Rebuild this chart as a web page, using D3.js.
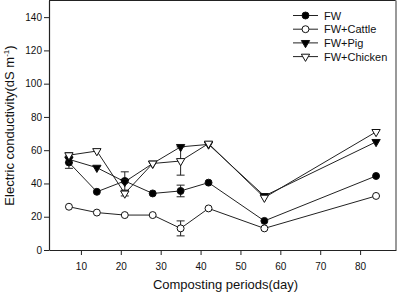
<!DOCTYPE html>
<html>
<head>
<meta charset="utf-8">
<script src="https://cdn.jsdelivr.net/npm/d3@7"></script>
<style>
  body { margin: 0; background: #fff; }
  svg text { font-family: "Liberation Sans", Arial, sans-serif; fill: #111; }
</style>
</head>
<body>
<div id="chart"></div>
<script>
var days = [7, 14, 21, 28, 35, 42, 56, 84];
var fw = [52.6, 35, 41.5, 34, 35.5, 40.5, 17.5, 44.5];
var fwErr = [3.5, 0, 5.5, 0, 3.5, 0, 0, 0];
var cattle = [26, 22.5, 21, 21, 13, 25, 13, 32.5];
var cattleErr = [0, 0, 0, 0, 4.5, 0, 0, 0];
var pig = [54.5, 49.5, 41, 52, 62, 63.5, 32.5, 65];
var pigErr = [2, 0, 0, 0, 0, 0, 0, 0];
var chicken = [57, 59.5, 34, 52, 53.5, 64, 31.5, 71];
var chickenErr = [1.5, 0, 1.5, 0, 8.5, 0, 0, 0];
var seriesNames = ["FW", "FW+Cattle", "FW+Pig", "FW+Chicken"];
var xTicks = [10, 20, 30, 40, 50, 60, 70, 80];
var yTicks = [0, 20, 40, 60, 80, 100, 120, 140];

var series = [
  { name: seriesNames[0], values: fw, err: fwErr, shape: "circle", fill: "#000" },
  { name: seriesNames[1], values: cattle, err: cattleErr, shape: "circle", fill: "#fff" },
  { name: seriesNames[2], values: pig, err: pigErr, shape: "tri", fill: "#000" },
  { name: seriesNames[3], values: chicken, err: chickenErr, shape: "tri", fill: "#fff" }
];

var margin = { top: 0.5, right: 8, bottom: 43, left: 49 },
  width = 396 - margin.left,
  height = 250 - margin.top;

var svg = d3.select("#chart").append("svg")
  .attr("width", 404)
  .attr("height", 293)
  .append("g")
  .attr("transform", "translate(" + margin.left + "," + margin.top + ")");

var x = d3.scaleLinear().domain([2, 89]).range([0, width]);
var y = d3.scaleLinear().domain([0, 150]).range([height, 0]);

// frame: top dark, right gray
svg.append("line")
  .attr("x1", 0).attr("x2", width).attr("y1", 0).attr("y2", 0)
  .attr("stroke", "#222").attr("stroke-width", 1);
svg.append("line")
  .attr("x1", width).attr("x2", width).attr("y1", 0).attr("y2", height)
  .attr("stroke", "#999").attr("stroke-width", 2);

var xAxis = d3.axisBottom(x).tickValues(xTicks).tickSize(5).tickSizeOuter(0);
var yAxis = d3.axisLeft(y).tickValues(yTicks).tickSize(5).tickSizeOuter(0);

var gx = svg.append("g")
  .attr("transform", "translate(0," + height + ")")
  .call(xAxis);
var gy = svg.append("g").call(yAxis);

[gx, gy].forEach(function (g) {
  g.select(".domain").attr("stroke", "#222").attr("stroke-width", 1.2);
  g.selectAll(".tick line").attr("stroke", "#222");
  g.selectAll("text").attr("font-size", 10).attr("fill", "#222")
    .attr("font-family", "Liberation Sans, Arial, sans-serif");
});
gx.selectAll("text").attr("dy", "1.15em");
gy.selectAll("text").attr("x", -7);

var line = d3.line()
  .x(function (d, i) { return x(days[i]); })
  .y(function (d) { return y(d); });

var sym = {
  circle: d3.symbol().type(d3.symbolCircle).size(38),
  tri: d3.symbol().type(d3.symbolTriangle).size(30)
};

series.forEach(function (s) {
  svg.append("path")
    .attr("d", line(s.values))
    .attr("fill", "none")
    .attr("stroke", "#222")
    .attr("stroke-width", 1);
});

series.forEach(function (s) {
  s.values.forEach(function (v, i) {
    if (!s.err[i]) return;
    var cx = x(days[i]);
    var g = svg.append("g").attr("stroke", "#222").attr("stroke-width", 1);
    g.append("line").attr("x1", cx).attr("x2", cx)
      .attr("y1", y(v - s.err[i])).attr("y2", y(v + s.err[i]));
    [v - s.err[i], v + s.err[i]].forEach(function (e) {
      g.append("line").attr("x1", cx - 4).attr("x2", cx + 4)
        .attr("y1", y(e)).attr("y2", y(e));
    });
  });
});

series.forEach(function (s) {
  svg.selectAll(null)
    .data(s.values)
    .enter().append("path")
    .attr("d", sym[s.shape])
    .attr("transform", function (d, i) {
      return "translate(" + x(days[i]) + "," + y(d) + ")" + (s.shape === "tri" ? " rotate(180)" : "");
    })
    .attr("fill", s.fill)
    .attr("stroke", "#111")
    .attr("stroke-width", 1);
});

// legend
var legend = svg.append("g").attr("transform", "translate(" + (293 - margin.left) + ",15)");
series.forEach(function (s, i) {
  var row = legend.append("g").attr("transform", "translate(0," + (i * 13.7) + ")");
  row.append("line").attr("x1", 0).attr("x2", 25).attr("y1", 0).attr("y2", 0)
    .attr("stroke", "#222").attr("stroke-width", 1);
  row.append("path")
    .attr("d", sym[s.shape])
    .attr("transform", "translate(12.5,0)" + (s.shape === "tri" ? " rotate(180)" : ""))
    .attr("fill", s.fill).attr("stroke", "#111");
  row.append("text")
    .attr("x", 31).attr("y", 4)
    .attr("font-size", 11)
    .text(s.name);
});

// axis titles
svg.append("text")
  .attr("x", x(2) + width / 2 + 3)
  .attr("y", 289 - margin.top)
  .attr("text-anchor", "middle")
  .attr("font-size", 13)
  .text("Composting periods(day)");

var yt = svg.append("text")
  .attr("transform", "translate(" + (14 - margin.left) + "," + 125 + ") rotate(-90)")
  .attr("text-anchor", "middle")
  .attr("font-size", 13);
yt.append("tspan").text("Electric conductivity(dS m");
yt.append("tspan").attr("font-size", 8).attr("dy", -5).text("-1");
yt.append("tspan").attr("dy", 5).text(")");
</script>
</body>
</html>
